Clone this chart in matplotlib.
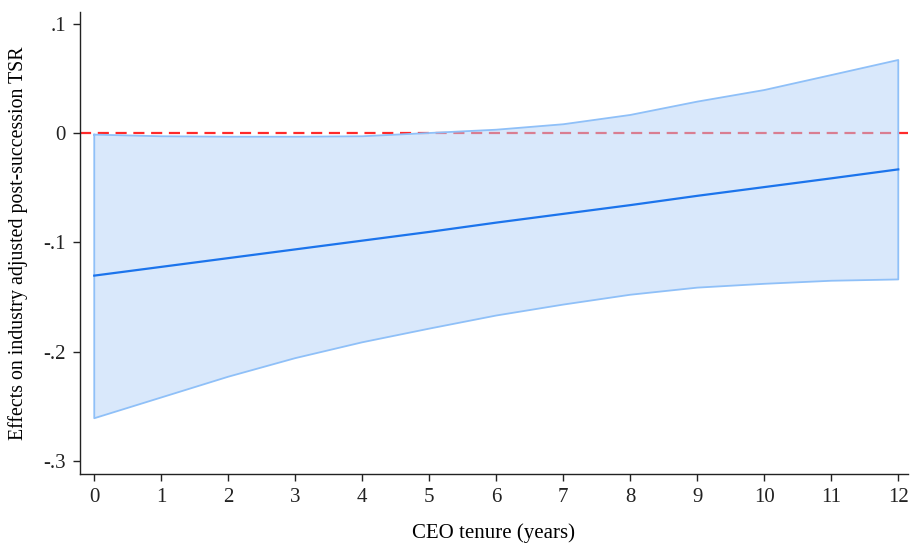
import matplotlib
matplotlib.use("Agg")
import matplotlib.pyplot as plt

# ================= DATA =================
# CEO tenure (years) and estimated effects
tenure = [0, 1, 2, 3, 4, 5, 6, 7, 8, 9, 10, 11, 12]
effect = [-0.1305, -0.1225, -0.1145, -0.1065, -0.0985, -0.0905, -0.0820,
          -0.0740, -0.0660, -0.0575, -0.0495, -0.0415, -0.0333]
ci_upper = [-0.0015, -0.0030, -0.0034, -0.0034, -0.0030, 0.0000, 0.0030,
            0.0080, 0.0165, 0.0287, 0.0393, 0.0530, 0.0668]
ci_lower = [-0.2610, -0.2420, -0.2230, -0.2060, -0.1915, -0.1790, -0.1670,
            -0.1570, -0.1480, -0.1415, -0.1380, -0.1352, -0.1340]

y_ticks = [0.1, 0.0, -0.1, -0.2, -0.3]
y_tick_labels = [".1", "0", "-.1", "-.2", "-.3"]

plt.rcParams['font.family'] = ['Liberation Serif', 'DejaVu Serif']

fig = plt.figure(figsize=(9.10, 5.43), dpi=100)
ax = fig.add_axes([0.0879, 0.1271, 0.9099, 0.8508])

# reference line sits under the shaded band
ax.axhline(0, color='#ff2a2a', linestyle=(0, (5, 3)), linewidth=1.6, zorder=1)

ax.fill_between(tenure, ci_lower, ci_upper, facecolor='#b5d3f9', alpha=0.5,
                edgecolor='none', zorder=2)
# outline of the band, closed at both ends
outline_x = tenure + tenure[::-1] + [tenure[0]]
outline_y = ci_upper + ci_lower[::-1] + [ci_upper[0]]
ax.plot(outline_x, outline_y, color='#8fc0f8', linewidth=1.3, zorder=3)

ax.plot(tenure, effect, color='#1c74ec', linewidth=1.6, zorder=4)

ax.set_xlim(-0.213, 12.145)
ax.set_ylim(-0.312, 0.1107)
ax.set_xticks(tenure)
ax.set_yticks(y_ticks)
ax.set_yticklabels(y_tick_labels)

for side in ['top', 'right']:
    ax.spines[side].set_visible(False)
for side in ['left', 'bottom']:
    ax.spines[side].set_linewidth(1.0)
    ax.spines[side].set_color('#222222')

ax.tick_params(axis='both', direction='out', length=5, width=1.0,
               labelsize=15, colors='#222222', pad=5)

ax.set_xlabel("CEO tenure (years)", fontsize=15, labelpad=12)
ax.set_ylabel("Effects on industry adjusted post-succession TSR", fontsize=14.3,
              labelpad=11)

fig.savefig("out.png", dpi=100)
